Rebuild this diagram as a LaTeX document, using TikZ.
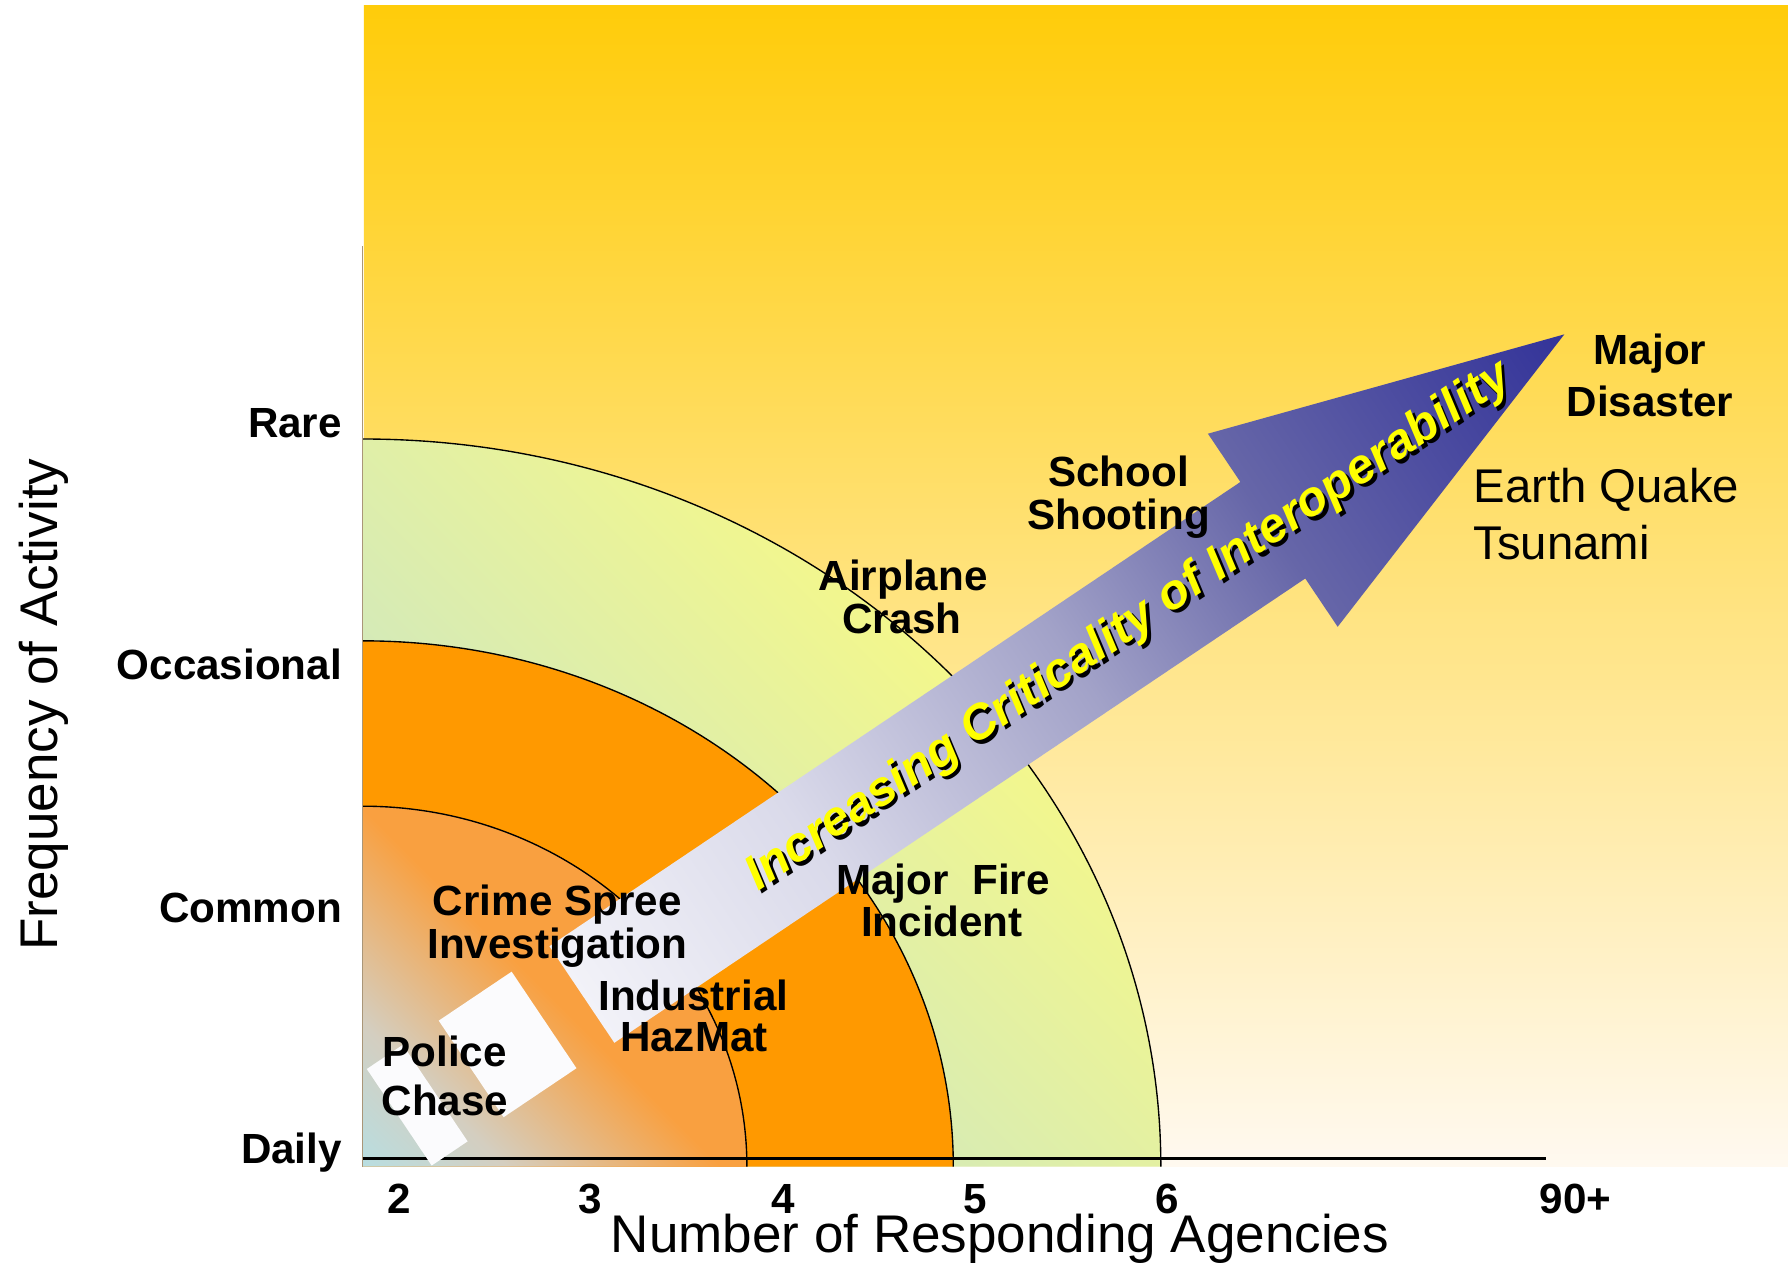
\documentclass[tikz,border=0pt]{standalone}
\usepackage{fontspec}
\setmainfont{Liberation Sans}
\definecolor{bgtop}{RGB}{255,204,10}
\definecolor{bgbot}{RGB}{255,249,240}
\definecolor{ringteal}{RGB}{184,222,225}
\definecolor{ringyellow}{RGB}{243,247,140}
\definecolor{midorange}{RGB}{255,153,0}
\definecolor{innerorange}{RGB}{249,160,64}
\definecolor{innermid}{RGB}{212,206,192}
\definecolor{barwhite}{RGB}{251,251,253}
\definecolor{arrowwhite}{RGB}{242,242,248}
\definecolor{arrowqa}{RGB}{218,218,234}
\definecolor{arrowmid}{RGB}{162,162,200}
\definecolor{arrowqc}{RGB}{102,102,168}
\definecolor{arrowblue}{RGB}{51,51,153}
\definecolor{textyellow}{RGB}{255,255,0}
\definecolor{edgegray}{RGB}{170,150,120}
\pgfdeclarehorizontalshading{arrowshade}{100bp}{color(0bp)=(arrowwhite); color(25bp)=(arrowwhite); color(36.56bp)=(arrowqa); color(50bp)=(arrowmid); color(60.16bp)=(arrowqc); color(75bp)=(arrowblue); color(100bp)=(arrowblue)}
\pgfdeclarehorizontalshading{innershade}{100bp}{color(0bp)=(ringteal); color(25bp)=(ringteal); color(38.7bp)=(innermid); color(59.2bp)=(innerorange); color(100bp)=(innerorange)}
\begin{document}
\begin{tikzpicture}[x=1pt,y=1pt,
  lbl/.style={font=\bfseries\fontsize{37}{42}\selectfont, inner sep=0pt, anchor=base},
  reg/.style={font=\fontsize{41.5}{48}\selectfont, inner sep=0pt, anchor=base west},
  axtitle/.style={font=\fontsize{46.5}{52}\selectfont, inner sep=0pt, anchor=base},
  crittext/.style={font=\bfseries\itshape\fontsize{43}{50}\selectfont, inner sep=0pt, rotate=33.9},
  arcline/.style={line width=1.2pt, black},
]
\useasboundingbox (0,0) rectangle (1568,1107);
\fill[white] (0,0) rectangle (1568,1107);
% background gradient
\shade[top color=bgtop, bottom color=bgbot] (319,84) rectangle (1568,1102);
% outer quarter ellipse (gradient)
\begin{scope}
  \clip (318,84) -- (1018,84) arc[start angle=0, end angle=90, x radius=700pt, y radius=638pt] -- cycle;
  \begin{scope}[transform canvas={rotate around={45:(318,84)}}]
    \shade[left color=ringteal, right color=ringyellow] (318,-420) rectangle (988,590);
  \end{scope}
\end{scope}
% middle quarter ellipse
\fill[midorange] (318,84) -- (836,84) arc[start angle=0, end angle=90, x radius=518pt, y radius=461pt] -- cycle;
% inner quarter ellipse
\fill[innerorange] (318,84) -- (655,84) arc[start angle=0, end angle=90, x radius=337pt, y radius=316pt] -- cycle;
\begin{scope}
  \clip (318,84) -- (655,84) arc[start angle=0, end angle=90, x radius=337pt, y radius=316pt] -- cycle;
  \begin{scope}[transform canvas={rotate around={45:(318,84)}}]
    \shade[shading=innershade] (318,-216) rectangle (643,384);
  \end{scope}
\end{scope}
% arcs
\draw[arcline] (1018,84) arc[start angle=0, end angle=90, x radius=700pt, y radius=638pt];
\draw[arcline] (836,84) arc[start angle=0, end angle=90, x radius=518pt, y radius=461pt];
\draw[arcline] (655,84) arc[start angle=0, end angle=90, x radius=337pt, y radius=316pt];
% axes
\coordinate (yb) at (318,84);
\coordinate (yt) at (318,891);
\draw[edgegray, line width=0.7pt] (yb) -- (yt);
\coordinate (xl) at (318,91);
\coordinate (xr) at (1356,91);
\draw[line width=2pt] (xl) -- (xr);
% big striped arrow
\begin{scope}[transform canvas={shift={(709.5,368.7)}, rotate=33.9}]
  \fill[barwhite] (-357,-51) rectangle (-280,51);
  \fill[barwhite] (-433,-51) rectangle (-395,51);
  \shade[shading=arrowshade]
    (-240,51) -- (490,51) -- (490,102) -- (798,0) -- (490,-102) -- (490,-51) -- (-240,-51) -- cycle;
\end{scope}
\node[crittext, text=black] (critshadow) at (993,554.3) {Increasing Criticality of Interoperability};
\node[crittext, text=textyellow] (crit) at (990,557.3) {Increasing Criticality of Interoperability};
% axis labels
\node[lbl, anchor=base east] (rare) at (300,723) {Rare};
\node[lbl, anchor=base east] (occ) at (300,511) {Occasional};
\node[lbl, anchor=base east] (com) at (300,298) {Common};
\node[lbl, anchor=base east] (dai) at (300,87) {Daily};
\node[lbl] (n2) at (350,43) {2};
\node[lbl] (n3) at (518,43) {3};
\node[lbl] (n4) at (686.5,43) {4};
\node[lbl] (n5) at (855,43) {5};
\node[lbl] (n6) at (1023.5,43) {6};
\node[lbl] (n90) at (1381.5,43) {90+};
\node[axtitle] (xtitle) at (877,9) {Number of Responding Agencies};
\node[axtitle, rotate=90] (ytitle) at (50,489) {Frequency of Activity};
% incident labels
\node[lbl] (md1) at (1447,787.7) {Major};
\node[lbl] (md2) at (1447,741.6) {Disaster};
\node[reg] (eq1) at (1292,666) {Earth Quake};
\node[reg] (eq2) at (1292,616.5) {Tsunami};
\node[lbl] (ss1) at (981,680) {School};
\node[lbl] (ss2) at (981,643) {Shooting};
\node[lbl] (ac1) at (792,589.3) {Airplane};
\node[lbl] (ac2) at (791,551.7) {Crash};
\node[lbl] (mf1) at (827,322.8) {Major\ \ Fire};
\node[lbl] (mf2) at (826,285.5) {Incident};
\node[lbl] (cs1) at (488.7,304.5) {Crime Spree};
\node[lbl] (cs2) at (488.8,266.5) {Investigation};
\node[lbl] (ih1) at (608,221.2) {Industrial};
\node[lbl] (ih2) at (608.5,184.7) {HazMat};
\node[lbl] (pc1) at (390,171.5) {Police};
\node[lbl] (pc2) at (390.2,129.1) {Chase};
\end{tikzpicture}
\end{document}
